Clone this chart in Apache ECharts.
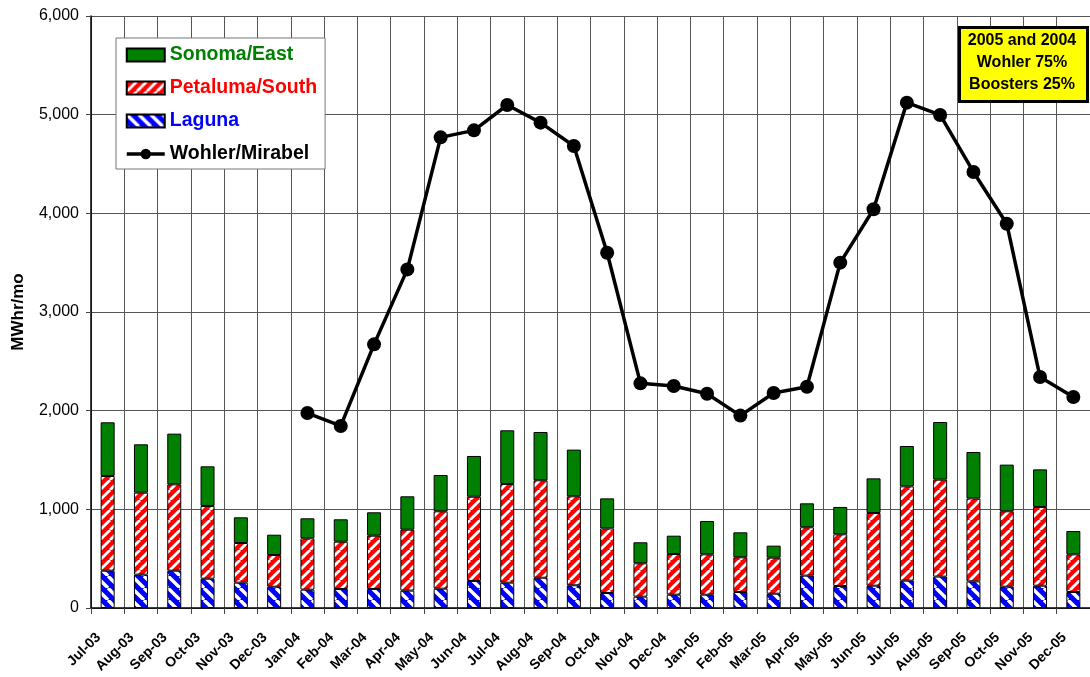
<!DOCTYPE html>
<html>
<head>
<meta charset="utf-8">
<script src="https://cdn.jsdelivr.net/npm/echarts@6/dist/echarts.min.js"></script>
<style>
html,body{margin:0;padding:0;background:#fff;}
#chart{width:1090px;height:677px;}
</style>
</head>
<body>
<div id="chart"></div>
<script>
const months = ['Jul-03','Aug-03','Sep-03','Oct-03','Nov-03','Dec-03',
  'Jan-04','Feb-04','Mar-04','Apr-04','May-04','Jun-04','Jul-04','Aug-04','Sep-04','Oct-04','Nov-04','Dec-04',
  'Jan-05','Feb-05','Mar-05','Apr-05','May-05','Jun-05','Jul-05','Aug-05','Sep-05','Oct-05','Nov-05','Dec-05'];

const laguna = [378,338,378,297,257,216,186,193,193,176,196,274,257,307,230,152,115,135,135,162,145,328,223,226,277,318,270,216,226,162];
const petaluma = [960,831,875,737,402,321,520,479,540,618,784,854,1000,987,902,655,338,412,409,352,365,490,524,737,956,983,841,764,798,382];
const sonoma = [544,490,514,402,260,206,203,227,237,338,368,413,544,490,473,304,213,186,338,253,122,243,277,351,409,584,470,473,381,236];
const wohler = [null,null,null,null,null,null,
  1976,1845,2672,3432,4770,4841,5098,4919,4682,3601,2277,2250,
  2172,1950,2179,2243,3500,4041,5122,4997,4419,3895,2341,2139];

const yTicks = {min:0, max:6000, interval:1000};
const noteText = ['2005 and 2004','Wohler 75%','Boosters 25%'];

function stripes(bg, fg, size, dir){
  const c = document.createElement('canvas');
  c.width = c.height = size;
  const g = c.getContext('2d');
  g.fillStyle = bg; g.fillRect(0,0,size,size);
  g.strokeStyle = fg; g.lineWidth = size*0.28;
  g.beginPath();
  for (const k of [-size,0,size]){
    if (dir === '/'){ g.moveTo(k, size); g.lineTo(k+size, 0); }
    else { g.moveTo(k, 0); g.lineTo(k+size, size); }
  }
  g.stroke();
  return {image:c, repeat:'repeat'};
}

const chart = echarts.init(document.getElementById('chart'), null, {renderer:'canvas'});
const FONT = 'Liberation Sans, Arial, sans-serif';
const barBase = {type:'bar', stack:'b', barWidth:14};

chart.setOption({
  animation:false,
  textStyle:{fontFamily:FONT},
  grid:{left:91, top:16, width:1005, bottom:69, containLabel:false},
  graphic:[
    {type:'rect', left:958, top:26, z:100,
      shape:{width:128, height:74},
      style:{fill:'#FFFF00', stroke:'#000', lineWidth:3}},
    {type:'text', x:1022, y:63, z:101,
      style:{text:noteText.join('\n'), fontFamily:FONT, fontWeight:'bold', fontSize:16, lineHeight:22,
        fill:'#000', align:'center', verticalAlign:'middle'}}
  ],
  legend:{
    orient:'vertical', left:116, top:38,
    backgroundColor:'#fff', borderColor:'#777', borderWidth:1,
    padding:[7,8,5,9],
    itemWidth:38, itemHeight:13, itemGap:13,
    textStyle:{fontFamily:FONT, fontWeight:'bold', fontSize:19.5, lineHeight:20},
    data:[
      {name:'Sonoma/East', icon:'rect', textStyle:{color:'#008000'}},
      {name:'Petaluma/South', icon:'rect', textStyle:{color:'#FF0000'}},
      {name:'Laguna', icon:'rect', textStyle:{color:'#0000FF'}},
      {name:'Wohler/Mirabel', textStyle:{color:'#000'}, lineStyle:{width:3.5, color:'#000'}}
    ]
  },
  xAxis:{
    type:'category', data:months, boundaryGap:true,
    axisLine:{lineStyle:{color:'#000', width:1.5}},
    axisTick:{show:true, length:6, lineStyle:{color:'#444'}},
    splitLine:{show:true, lineStyle:{color:'#555', width:1}},
    axisLabel:{interval:0, rotate:45, margin:18, padding:[0,13,0,0],
      fontFamily:FONT, fontWeight:'bold', fontSize:14, color:'#000'}
  },
  yAxis:{
    type:'value', min:yTicks.min, max:yTicks.max, interval:yTicks.interval,
    name:'MWhr/mo', nameLocation:'middle', nameRotate:90, nameGap:64,
    nameTextStyle:{fontFamily:FONT, fontWeight:'bold', fontSize:17, color:'#000'},
    axisLine:{show:true, lineStyle:{color:'#000', width:1.5}},
    axisTick:{show:true, length:5, lineStyle:{color:'#444'}},
    splitLine:{show:true, lineStyle:{color:'#555', width:1}},
    axisLabel:{margin:12, fontFamily:FONT, fontSize:16, color:'#000',
      formatter:v=>v.toLocaleString('en-US')}
  },
  series:[
    Object.assign({}, barBase, {name:'Laguna', data:laguna,
      itemStyle:{color:stripes('#0000FF','#fff',12,'\\'), borderColor:'#000', borderWidth:1}}),
    Object.assign({}, barBase, {name:'Petaluma/South', data:petaluma,
      itemStyle:{color:stripes('#FF0000','#fff',10,'/'), borderColor:'#000', borderWidth:1}}),
    Object.assign({}, barBase, {name:'Sonoma/East', data:sonoma,
      itemStyle:{color:'#008000', borderColor:'#000', borderWidth:1}}),
    {name:'Wohler/Mirabel', type:'line', data:wohler, symbol:'circle', symbolSize:14,
      lineStyle:{color:'#000', width:3.5}, itemStyle:{color:'#000'}, z:5}
  ]
});
</script>
</body>
</html>
